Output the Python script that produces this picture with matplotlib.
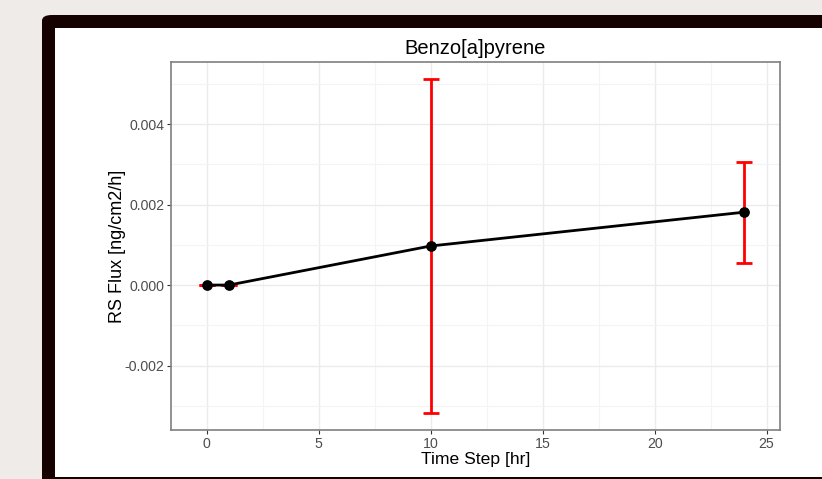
import matplotlib
matplotlib.use("Agg")
import matplotlib.pyplot as plt
from matplotlib.patches import FancyBboxPatch, Rectangle
from matplotlib.ticker import MultipleLocator

plt.rcParams['font.family'] = ['Liberation Sans', 'DejaVu Sans']

# data
time_step = [0, 1, 10, 24]
flux = [0.0, 0.0, 0.00097, 0.00181]
flux_low = [-0.00001, -0.00001, -0.00318, 0.00055]
flux_high = [0.00001, 0.00001, 0.00511, 0.00306]
x_ticks = [0, 5, 10, 15, 20, 25]
y_ticks = [-0.002, 0.0, 0.002, 0.004]

W, H = 822, 479
fig = plt.figure(figsize=(W / 100, H / 100), dpi=100)
fig.patch.set_facecolor('#efebe9')

# dark frame with rounded corner and white panel inside
frame = FancyBboxPatch((42 / W, -0.1), 1.2, (H - 15) / H + 0.1,
                       boxstyle="round,pad=0,rounding_size=0.012",
                       transform=fig.transFigure, facecolor='#160101',
                       edgecolor='none', zorder=-2)
fig.patches.append(frame)
panel = Rectangle((55 / W, 2 / H), 1.0, (H - 28 - 2) / H,
                  transform=fig.transFigure, facecolor='white',
                  edgecolor='none', zorder=-1)
fig.patches.append(panel)

ax = fig.add_axes([171 / W, (H - 430) / H, (780 - 171) / W, (430 - 62) / H])
ax.set_facecolor('white')

lo = [f - l for f, l in zip(flux, flux_low)]
hi = [h - f for f, h in zip(flux, flux_high)]
ax.errorbar(time_step, flux, yerr=[lo, hi], fmt='none', ecolor='#ff0000',
            elinewidth=2, capsize=5.6, capthick=2, zorder=3)
ax.plot(time_step, flux, color='black', lw=2, zorder=4)
ax.scatter(time_step, flux, s=45, color='black', zorder=5)

ax.set_xlim(-1.59, 25.6)
ax.set_ylim(-0.0036, 0.00554)
ax.set_xticks(x_ticks)
ax.set_yticks(y_ticks)
ax.set_yticklabels(['%.3f' % v for v in y_ticks])
ax.xaxis.set_minor_locator(MultipleLocator(2.5))
ax.yaxis.set_minor_locator(MultipleLocator(0.001))

ax.grid(True, which='major', color='#ebebeb', lw=1.0)
ax.grid(True, which='minor', color='#f4f4f4', lw=0.8)
ax.set_axisbelow(True)
for side in ax.spines.values():
    side.set_color('#7f7f7f')
    side.set_linewidth(1.2)

ax.tick_params(which='major', length=3, width=0.8, color='#333333',
               labelsize=10.2, labelcolor='#4d4d4d', pad=2)
ax.tick_params(which='minor', length=0)

ax.set_title('Benzo[a]pyrene', fontsize=14.5, color='black', pad=6)
ax.set_xlabel('Time Step [hr]', fontsize=12.6, color='black', labelpad=0.5)
ax.set_ylabel('RS Flux [ng/cm2/h]', fontsize=13, color='black', labelpad=-1.5)

fig.savefig('out.png', dpi=100, facecolor=fig.get_facecolor())
